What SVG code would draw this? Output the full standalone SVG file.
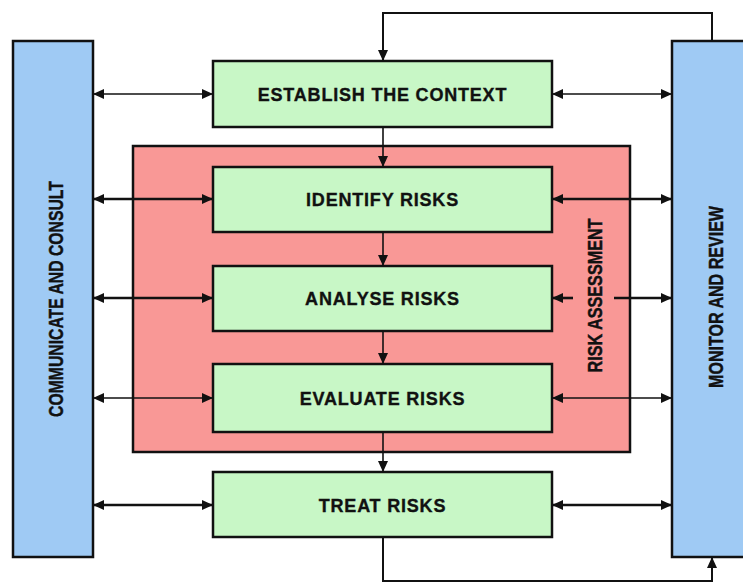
<svg xmlns="http://www.w3.org/2000/svg" width="743" height="583" viewBox="0 0 743 583">
  <defs>
    <marker id="head" viewBox="0 0 11 10" refX="11" refY="5" markerWidth="11" markerHeight="10" markerUnits="userSpaceOnUse" orient="auto-start-reverse">
      <path d="M0,0 L11,5 L0,10 z" fill="#111"/>
    </marker>
    <style>
      .step { fill: #c8f7c6; stroke: #111; stroke-width: 2.5; }
      .side { fill: #9fcaf4; stroke: #111; stroke-width: 2.5; }
      .zone { fill: #f99896; stroke: #111; stroke-width: 2.5; }
      .lbl { font-family: "Liberation Sans", Arial, sans-serif; font-weight: bold; font-size: 18px; letter-spacing: 0.8px; fill: #111; stroke: #111; stroke-width: 0.35; text-anchor: middle; }
      .vlbl { font-family: "Liberation Sans", Arial, sans-serif; font-weight: bold; fill: #111; stroke: #111; stroke-width: 0.45; text-anchor: middle; }
      .link { fill: none; stroke: #111; stroke-width: 1.6; }
      .thick { stroke-width: 2.6; }
      .loop { stroke-width: 2; }
      .one { marker-end: url(#head); }
      .two { marker-start: url(#head); marker-end: url(#head); }
    </style>
  </defs>

  <rect width="743" height="583" fill="#ffffff"/>

  <!-- side columns -->
  <g id="communicate">
    <rect class="side" x="13" y="41" width="80" height="516"/>
    <text class="vlbl" font-size="21" transform="translate(55.5,299) rotate(-90) scale(0.75,1)" y="7.5">COMMUNICATE AND CONSULT</text>
  </g>
  <g id="monitor">
    <rect class="side" x="672" y="41" width="90" height="516"/>
    <text class="vlbl" font-size="21" transform="translate(715,297) rotate(-90) scale(0.765,1)" y="7.5">MONITOR AND REVIEW</text>
  </g>

  <!-- risk assessment zone -->
  <g id="assessment">
    <rect class="zone" x="133" y="146" width="497" height="306"/>
    <text class="vlbl" font-size="19.5" transform="translate(595,295.5) rotate(-90) scale(0.83,1)" y="7">RISK ASSESSMENT</text>
  </g>

  <!-- process steps -->
  <g id="context">
    <rect class="step" x="213" y="61" width="339" height="66"/>
    <text class="lbl" x="382.5" y="101">ESTABLISH THE CONTEXT</text>
  </g>
  <g id="identify">
    <rect class="step" x="213" y="167" width="339" height="65"/>
    <text class="lbl" x="382.5" y="206">IDENTIFY RISKS</text>
  </g>
  <g id="analyse">
    <rect class="step" x="213" y="266" width="339" height="65"/>
    <text class="lbl" x="382.5" y="305">ANALYSE RISKS</text>
  </g>
  <g id="evaluate">
    <rect class="step" x="213" y="364" width="339" height="68"/>
    <text class="lbl" x="382.5" y="405">EVALUATE RISKS</text>
  </g>
  <g id="treat">
    <rect class="step" x="213" y="472" width="339" height="65"/>
    <text class="lbl" x="382.5" y="512">TREAT RISKS</text>
  </g>

  <!-- connectors -->
  <g id="connectors">
    <!-- main flow -->
    <line class="link one" x1="383" y1="127" x2="383" y2="167"/>
    <line class="link one" x1="383" y1="232" x2="383" y2="266"/>
    <line class="link one" x1="383" y1="331" x2="383" y2="364"/>
    <line class="link one" x1="383" y1="432" x2="383" y2="472"/>

    <!-- feedback loops -->
    <path class="link loop one" d="M712,41 V13 H383 V61"/>
    <path class="link loop one" d="M383,537 V581 H712 V557"/>

    <!-- communicate and consult -->
    <line class="link two" x1="93" y1="94" x2="213" y2="94"/>
    <line class="link thick two" x1="93" y1="199" x2="213" y2="199"/>
    <line class="link thick two" x1="93" y1="298" x2="213" y2="298"/>
    <line class="link two" x1="93" y1="398" x2="213" y2="398"/>
    <line class="link thick two" x1="93" y1="505" x2="213" y2="505"/>

    <!-- monitor and review -->
    <line class="link two" x1="552" y1="94" x2="672" y2="94"/>
    <line class="link thick two" x1="552" y1="199" x2="672" y2="199"/>
    <line class="link thick one" x1="573" y1="298" x2="552" y2="298"/>
    <line class="link thick one" x1="614" y1="298" x2="672" y2="298"/>
    <line class="link two" x1="552" y1="398" x2="672" y2="398"/>
    <line class="link thick two" x1="552" y1="505" x2="672" y2="505"/>
  </g>
</svg>
